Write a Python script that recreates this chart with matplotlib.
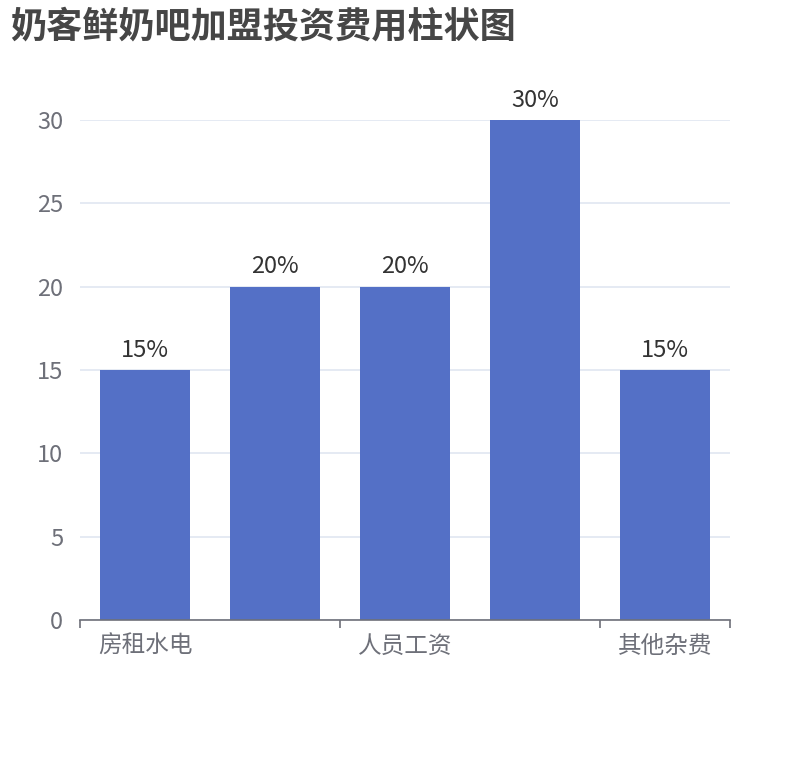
import matplotlib
matplotlib.use("Agg")
import matplotlib.pyplot as plt
import numpy as np

plt.rcParams['font.family'] = ['Noto Sans CJK SC', 'DejaVu Sans']

title = "奶客鲜奶吧加盟投资费用柱状图"
categories = ["房租水电", "装修费用", "人员工资", "设备采购", "其他杂费"]
values = [15, 20, 20, 30, 15]
labels = ["15%", "20%", "20%", "30%", "15%"]
y_ticks = [0, 5, 10, 15, 20, 25, 30]

W, H = 810, 760
fig = plt.figure(figsize=(W / 100, H / 100), dpi=100)
ax = fig.add_axes([80 / W, 1 - 620 / H, 650 / W, 500 / H])

x = np.arange(len(categories))
bars = ax.bar(x, values, width=0.69, color="#5470C6", zorder=3)
for b, lab in zip(bars, labels):
    ax.annotate(lab, (b.get_x() + b.get_width() / 2, b.get_height()),
                xytext=(0, 6), textcoords="offset points",
                ha="center", va="bottom", fontsize=17, color="#333333")

ax.set_xlim(-0.5, len(categories) - 0.5)
ax.set_ylim(0, 30)
ax.set_yticks(y_ticks)
ax.set_yticklabels([str(v) for v in y_ticks])
ax.tick_params(axis="y", length=0, pad=12, labelsize=17, labelcolor="#6E7079")
ax.yaxis.grid(True, color="#E0E6F1", linewidth=1.2, zorder=0)

# ticks at category boundaries, labels every second category
ax.set_xticks([-0.5, 1.5, 3.5, 4.5])
ax.set_xticklabels([])
ax.tick_params(axis="x", which="major", length=6, width=1.2, color="#6E7079", direction="out")
ax.set_xticks(x[::2], minor=True)
ax.set_xticklabels(categories[::2], minor=True)
ax.tick_params(axis="x", which="minor", length=0, pad=11, labelsize=17, labelcolor="#6E7079")

for s in ["top", "right", "left"]:
    ax.spines[s].set_visible(False)
ax.spines["bottom"].set_color("#6E7079")
ax.spines["bottom"].set_linewidth(1.2)
ax.spines["bottom"].set_zorder(4)

fig.text(10 / W, 1 - 9 / H, title, ha="left", va="top", fontsize=26,
         fontweight="bold", color="#464646")

fig.savefig("out.png", dpi=100, facecolor="white")
